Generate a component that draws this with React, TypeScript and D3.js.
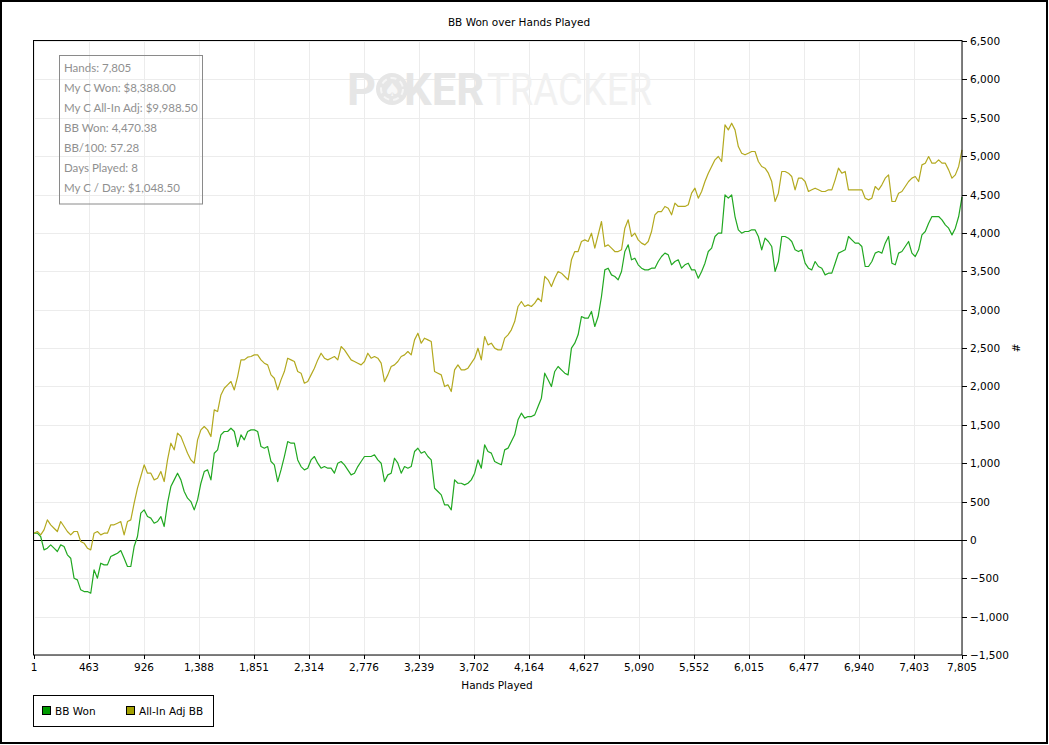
import React, { useEffect, useRef } from 'react';
import * as d3 from 'd3';

// BB won at even steps of hands played (1 .. 7,805)
const bbWon = [
  87, 87, 44, -130, -108, -65, -108, -152, -65, -87,
  -195, -239, -499, -521, -651, -673, -673, -695, -391, -499,
  -304, -326, -326, -217, -195, -174, -139, -239, -347, -347,
  -87, 44, 348, 391, 304, 283, 217, 239, 304, 174,
  478, 695, 782, 869, 782,
  630, 543, 499, 391, 521, 738, 890, 912, 782, 1129,
  1173, 1368, 1412, 1412, 1455, 1412, 1216, 1368, 1303, 1412,
  1433, 1433, 1412, 1216, 1194, 1216, 1021, 977, 760, 912,
  1086, 1281, 1260, 1260, 1042, 955, 912, 934, 1042, 1086,
  999, 934, 955, 934, 934, 869, 999, 1021, 977, 912,
  847, 869, 955, 1021, 1086, 1086, 1086, 1108, 1042, 999,
  760, 847, 869, 1064, 999, 869, 955, 934, 955, 1151,
  1194, 1129, 1151, 1086, 1042, 673, 630, 586, 456, 456,
  391, 782, 738, 738, 717, 738, 782, 869, 1042, 934,
  1238, 1151, 1130, 1021, 999, 978, 1173, 1195, 1282, 1369,
  1564, 1651, 1586, 1607, 1607, 1629, 1738, 1846, 2172, 2085,
  1998, 2194, 2259, 2215, 2172, 2150, 2498, 2563, 2672, 2910,
  2889, 2889, 2976, 2780, 2910, 3171, 3518, 3540, 3453, 3432,
  3388, 3497, 3757, 3844, 3649, 3670, 3584, 3540, 3518, 3518,
  3540, 3540, 3627, 3692, 3736, 3714, 3584, 3627, 3649, 3540,
  3584, 3605, 3518,
  3518, 3410, 3497, 3605, 3757, 3801, 3953, 3996, 3996, 4496,
  4452, 4496, 4213, 4040, 3996, 4018, 4018, 4040, 4040, 3953,
  3779, 3931, 3888, 3822, 3497, 3627, 3953, 3953, 3931, 3888,
  3779, 3757, 3779, 3605, 3540, 3518, 3627, 3562, 3540, 3453,
  3475, 3475, 3605, 3736, 3757, 3779, 3953, 3909, 3866, 3866,
  3822, 3562, 3562, 3627, 3736, 3757, 3736, 3866, 3953, 3605,
  3584, 3736, 3757, 3822, 3888, 3736, 3692, 3779, 3974, 4018,
  4126, 4213, 4213, 4213, 4170, 4105, 4061, 3974, 4061, 4213,
  4470,
];

// All-in adjusted BB, same sampling
const allInAdjBB = [
  87, 109, 65, 131, 261, 196, 152, 109, 239, 174,
  109, 65, 109, 109, -22, -43, -108, -130, 87, 109,
  65, 87, 87, 196, 196, 217, 239, 65, 239, 261,
  478, 674, 826, 978, 869, 869, 782, 804, 891, 760,
  1043, 1260, 1173, 1390, 1347,
  1238, 1129, 1042, 999, 1303, 1433, 1477, 1433, 1346, 1694,
  1672, 1889, 1976, 2020, 2063, 1954, 2128, 2345, 2345, 2380,
  2389, 2410, 2410, 2345, 2302, 2280, 2150, 2106, 1954, 2085,
  2193, 2367, 2345, 2324, 2193, 2172, 2041, 2063, 2150, 2237,
  2345, 2432, 2367, 2345, 2367, 2389, 2345, 2519, 2476, 2410,
  2345, 2324, 2302, 2280, 2324, 2432, 2367, 2389, 2367, 2302,
  2063, 2150, 2258, 2280, 2324, 2389, 2410, 2454, 2410, 2606,
  2693, 2562, 2628, 2606, 2584, 2193, 2172, 2150, 1998, 2020,
  1933, 2215, 2280, 2215, 2215, 2237, 2302, 2367, 2497, 2345,
  2650, 2541, 2563, 2498, 2476, 2476, 2628, 2672, 2737, 2845,
  3041, 3106, 3041, 3062, 3041, 3084, 3149, 3106, 3432, 3388,
  3301, 3410, 3497, 3475, 3432, 3388, 3649, 3757, 3757, 3888,
  3909, 3888, 3996, 3801, 3974, 4148, 3822, 3844, 3801, 3757,
  3757, 3779, 4061, 4170, 3953, 3996, 3909, 3866, 3844, 3888,
  4018, 4235, 4278, 4278, 4344, 4322, 4235, 4387, 4344, 4344,
  4344, 4366, 4517,
  4582, 4452, 4539, 4669, 4778, 4865, 4952, 4995, 4930, 5408,
  5342, 5429, 5342, 5125, 5038, 5017, 5038, 5060, 5060, 4930,
  4865, 4843, 4778, 4669, 4409, 4517, 4800, 4800, 4778, 4734,
  4561, 4713, 4713, 4669, 4539, 4561, 4582, 4561, 4539, 4539,
  4561, 4561, 4691, 4843, 4778, 4800, 4561, 4561, 4561, 4561,
  4561, 4452, 4430, 4452, 4604, 4561, 4626, 4713, 4756, 4409,
  4409, 4517, 4539, 4604, 4669, 4713, 4734, 4669, 4886, 4908,
  4995, 4908, 4908, 4952, 4908, 4908, 4821, 4713, 4756, 4865,
  5082,
];

const firstHand = 1;
const lastHand = 7805;

const xTicks = [1, 463, 926, 1388, 1851, 2314, 2776, 3239, 3702, 4164, 4627, 5090, 5552, 6015, 6477, 6940, 7403, 7805];
const yTicks = [-1500, -1000, -500, 0, 500, 1000, 1500, 2000, 2500, 3000, 3500, 4000, 4500, 5000, 5500, 6000, 6500];

const statLines = [
  "Hands: 7,805",
  "My C Won: $8,388.00",
  "My C All-In Adj: $9,988.50",
  "BB Won: 4,470.38",
  "BB/100: 57.28",
  "Days Played: 8",
  "My C / Day: $1,048.50",
];

const seriesNames = ["BB Won", "All-In Adj BB"];
const lineColors = ["#21a821", "#b3a91f"];
const swatchColors = ["#009a00", "#a3a000"];

const FONT = "'DejaVu Sans', Verdana, sans-serif";

const App = () => {
  const ref = useRef<SVGSVGElement>(null);

  useEffect(() => {
    const svg = d3.select(ref.current);
    svg.selectAll("*").remove();

    const left = 34, right = 962, top = 41, bottom = 655;

    const x = d3.scaleLinear().domain([firstHand, lastHand]).range([left, right]);
    const y = d3.scaleLinear().domain([-1500, 6500]).range([bottom, top]);

    // white background + outer frame
    svg.append("rect").attr("x", 0).attr("y", 0).attr("width", 1049).attr("height", 745).attr("fill", "#fff");
    svg.append("rect")
      .attr("x", 1).attr("y", 1).attr("width", 1046).attr("height", 742)
      .attr("fill", "none").attr("stroke", "#000").attr("stroke-width", 2);

    // title
    svg.append("text")
      .attr("x", 519).attr("y", 26)
      .attr("text-anchor", "middle")
      .attr("font-family", FONT).attr("font-size", 10.5)
      .text("BB Won over Hands Played");

    // grid
    const grid = svg.append("g").attr("stroke", "#ececec").attr("stroke-width", 1);
    grid.selectAll("line.v").data(xTicks).enter().append("line")
      .attr("x1", d => Math.round(x(d)) + 0.5).attr("x2", d => Math.round(x(d)) + 0.5)
      .attr("y1", top).attr("y2", bottom);
    grid.selectAll("line.h").data(yTicks).enter().append("line")
      .attr("x1", left).attr("x2", right)
      .attr("y1", d => Math.round(y(d)) + 0.5).attr("y2", d => Math.round(y(d)) + 0.5);

    // watermark
    const wm = svg.append("g");
    wm.append("text")
      .attr("x", 347).attr("y", 105)
      .attr("font-family", "Roboto, sans-serif").attr("font-size", 45).attr("font-weight", "bold")
      .attr("fill", "#e6e6e6")
      .text("P");
    wm.append("circle").attr("cx", 392).attr("cy", 89).attr("r", 16).attr("fill", "#e6e6e6");
    wm.append("circle").attr("cx", 392).attr("cy", 89).attr("r", 11).attr("fill", "none")
      .attr("stroke", "#f6f6f6").attr("stroke-width", 2).attr("stroke-dasharray", "6 4");
    wm.append("text")
      .attr("x", 392).attr("y", 96).attr("text-anchor", "middle")
      .attr("font-family", "'DejaVu Sans', sans-serif").attr("font-size", 18)
      .attr("fill", "#f8f8f8")
      .text("\u2660");
    wm.append("text")
      .attr("x", 404).attr("y", 105)
      .attr("font-family", "Roboto, sans-serif").attr("font-size", 45).attr("font-weight", "bold")
      .attr("fill", "#e6e6e6")
      .attr("textLength", 80).attr("lengthAdjust", "spacingAndGlyphs")
      .text("KER");
    wm.append("text")
      .attr("x", 487).attr("y", 105)
      .attr("font-family", "Roboto, sans-serif").attr("font-size", 45)
      .attr("fill", "#f1f1f1")
      .attr("textLength", 165).attr("lengthAdjust", "spacingAndGlyphs")
      .text("TRACKER");

    // zero line
    svg.append("line")
      .attr("x1", left).attr("x2", right)
      .attr("y1", Math.round(y(0)) + 0.5).attr("y2", Math.round(y(0)) + 0.5)
      .attr("stroke", "#000").attr("stroke-width", 1);

    // series lines
    const step = (lastHand - firstHand) / (bbWon.length - 1);
    const line = d3.line<number>()
      .x((_, i) => x(firstHand + i * step))
      .y(d => y(d));

    [bbWon, allInAdjBB].forEach((vals, i) => {
      svg.append("path")
        .datum(vals)
        .attr("d", line)
        .attr("fill", "none")
        .attr("stroke", lineColors[i])
        .attr("stroke-width", 1.2)
        .attr("stroke-linejoin", "round");
    });

    // plot border (top + left) and axes (right + bottom)
    svg.append("rect")
      .attr("x", left - 0.5).attr("y", top - 0.5)
      .attr("width", right - left + 0.5).attr("height", bottom - top + 0.5)
      .attr("fill", "none").attr("stroke", "#000").attr("stroke-width", 1);

    // x axis
    const xAxis = svg.append("g");
    xAxis.selectAll("line").data(xTicks).enter().append("line")
      .attr("x1", d => Math.round(x(d)) + 0.5).attr("x2", d => Math.round(x(d)) + 0.5)
      .attr("y1", bottom).attr("y2", bottom + 4)
      .attr("stroke", "#000");
    xAxis.selectAll("text").data(xTicks).enter().append("text")
      .attr("x", d => x(d)).attr("y", bottom + 16)
      .attr("text-anchor", "middle")
      .attr("font-family", FONT).attr("font-size", 10.5)
      .text(d => d3.format(",")(d));

    // y axis on the right
    const yAxis = svg.append("g");
    yAxis.selectAll("line").data(yTicks).enter().append("line")
      .attr("x1", right).attr("x2", right + 5)
      .attr("y1", d => Math.round(y(d)) + 0.5).attr("y2", d => Math.round(y(d)) + 0.5)
      .attr("stroke", "#000");
    yAxis.selectAll("text").data(yTicks).enter().append("text")
      .attr("x", right + 8).attr("y", d => y(d) + 4)
      .attr("font-family", FONT).attr("font-size", 10.5)
      .text(d => d3.format(",")(d));

    // axis titles
    svg.append("text")
      .attr("x", 497).attr("y", 689)
      .attr("text-anchor", "middle")
      .attr("font-family", FONT).attr("font-size", 10.5)
      .text("Hands Played");
    svg.append("text")
      .attr("transform", "translate(1012,348) rotate(90)")
      .attr("text-anchor", "middle")
      .attr("font-family", FONT).attr("font-size", 10.5)
      .text("#");

    // stats box
    svg.append("rect")
      .attr("x", 59.5).attr("y", 55.5).attr("width", 143).attr("height", 148.5)
      .attr("fill", "none").attr("stroke", "#8a8a8a").attr("stroke-width", 1);
    svg.append("g").selectAll("text").data(statLines).enter().append("text")
      .attr("x", 64).attr("y", (_, i) => 72 + i * 20)
      .attr("font-family", "'Segoe UI', Lato, sans-serif").attr("font-size", 11.5)
      .attr("fill", "#909090")
      .text(d => d);

    // legend
    svg.append("rect")
      .attr("x", 33.5).attr("y", 695.5).attr("width", 180).attr("height", 31)
      .attr("fill", "none").attr("stroke", "#000");
    const legendX = [42, 126];
    seriesNames.forEach((name, i) => {
      svg.append("rect")
        .attr("x", legendX[i] + 0.5).attr("y", 706.5).attr("width", 8).attr("height", 8)
        .attr("fill", swatchColors[i]).attr("stroke", "#000");
      svg.append("text")
        .attr("x", legendX[i] + 13).attr("y", 715)
        .attr("font-family", FONT).attr("font-size", 10.5)
        .text(name);
    });
  }, []);

  return (
    <>
      <style>{`body{margin:0}`}</style>
      <svg ref={ref} width={1049} height={745} style={{ display: 'block' }}></svg>
    </>
  );
};

export default App;
